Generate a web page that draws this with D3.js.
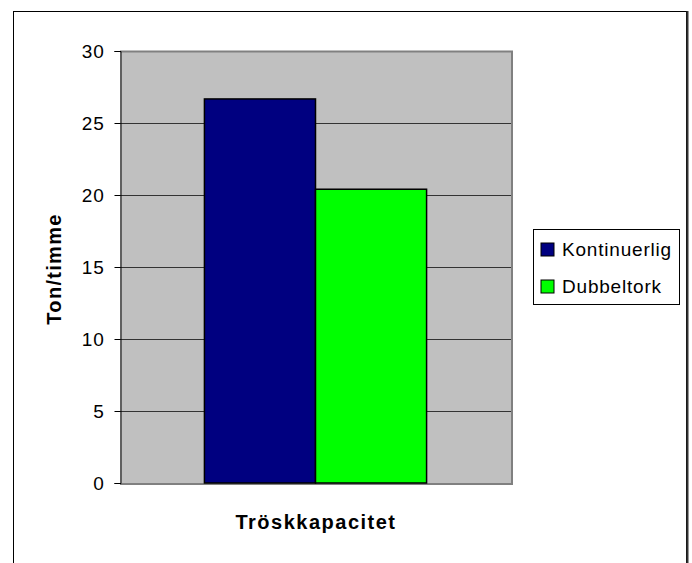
<!DOCTYPE html>
<html lang="sv">
<head>
<meta charset="UTF-8">
<title>Tröskkapacitet</title>
<script src="https://d3js.org/d3.v7.min.js"></script>
<style>
  body { margin: 0; padding: 0; background: #fff; }
  svg { display: block; font-family: "Liberation Sans", Arial, sans-serif; }
</style>
</head>
<body>
<svg id="chart" width="692" height="563"></svg>
<script>
// data
const categories = ["Tröskkapacitet"];
const seriesNames = ["Kontinuerlig", "Dubbeltork"];
const seriesValues = [26.67, 20.4];
const seriesColors = ["#000080", "#00ff00"];
const yTicks = [0, 5, 10, 15, 20, 25, 30];

const svg = d3.select("#chart");

// outer chart border
svg.append("rect")
    .attr("x", 13.5).attr("y", 11.5)
    .attr("width", 673).attr("height", 570)
    .attr("fill", "none").attr("stroke", "#000").attr("stroke-width", 1);
svg.append("line")
    .attr("x1", 687.5).attr("x2", 687.5).attr("y1", 11).attr("y2", 563)
    .attr("stroke", "#333").attr("stroke-width", 2);

const plot = {left: 120, top: 51, right: 511, bottom: 483};

const y = d3.scaleLinear().domain([0, 30]).range([plot.bottom, plot.top]);
const x = d3.scaleBand().domain(categories).range([plot.left, plot.right])
    .paddingInner(0).paddingOuter(0.38);
const xs = d3.scaleBand().domain(seriesNames).range([0, x.bandwidth()]);

// plot area background
svg.append("rect")
    .attr("x", plot.left).attr("y", plot.top)
    .attr("width", plot.right - plot.left).attr("height", plot.bottom - plot.top)
    .attr("fill", "#c0c0c0");

// gridlines
svg.append("g")
    .selectAll("line")
    .data(yTicks.filter(d => d > 0 && d < 30))
    .enter().append("line")
    .attr("x1", plot.left).attr("x2", plot.right)
    .attr("y1", d => Math.round(y(d)) + 0.5).attr("y2", d => Math.round(y(d)) + 0.5)
    .attr("stroke", "#333").attr("stroke-width", 1);

// plot area border (top, right, bottom)
svg.append("path")
    .attr("d", `M${plot.left},${plot.top + 0.5}H${plot.right + 1}V${plot.bottom + 1}H${plot.left}`)
    .attr("fill", "none").attr("stroke", "#808080").attr("stroke-width", 2);

// bars
svg.append("g")
    .selectAll("rect")
    .data(seriesNames.map((s, i) => ({name: s, value: seriesValues[i], color: seriesColors[i], cat: categories[0]})))
    .enter().append("rect")
    .attr("x", d => x(d.cat) + xs(d.name))
    .attr("y", d => y(d.value))
    .attr("width", xs.bandwidth())
    .attr("height", d => y(0) - y(d.value))
    .attr("fill", d => d.color)
    .attr("stroke", "#000").attr("stroke-width", 1.5);

// y axis
const yAxis = svg.append("g")
    .attr("transform", `translate(${plot.left + 0.5},0)`)
    .call(d3.axisLeft(y).tickValues(yTicks).tickSize(6).tickPadding(10));
yAxis.attr("font-family", null);
yAxis.select(".domain").attr("stroke", "#000");
yAxis.selectAll(".tick line").attr("stroke", "#000");
yAxis.selectAll(".tick text")
    .attr("font-size", 19).attr("letter-spacing", 0.8).attr("fill", "#000");

// axis titles
svg.append("text")
    .attr("x", 316).attr("y", 529)
    .attr("text-anchor", "middle")
    .attr("font-size", 20).attr("font-weight", "bold").attr("letter-spacing", 1.5)
    .text(categories[0]);

svg.append("text")
    .attr("transform", "translate(61,269) rotate(-90)")
    .attr("text-anchor", "middle")
    .attr("font-size", 20).attr("font-weight", "bold").attr("letter-spacing", 1.3)
    .text("Ton/timme");

// legend
const legend = svg.append("g");
legend.append("rect")
    .attr("x", 533.5).attr("y", 229.5).attr("width", 146).attr("height", 75)
    .attr("fill", "#fff").attr("stroke", "#000").attr("stroke-width", 1);
const items = legend.selectAll("g.item")
    .data(seriesNames)
    .enter().append("g")
    .attr("transform", (d, i) => `translate(541,${249 + i * 37})`);
items.append("rect")
    .attr("x", 0).attr("y", -6).attr("width", 13).attr("height", 13)
    .attr("fill", (d, i) => seriesColors[i])
    .attr("stroke", "#000").attr("stroke-width", 1);
items.append("text")
    .attr("x", 21).attr("y", 7)
    .attr("font-size", 19).attr("letter-spacing", 0.8)
    .text(d => d);
</script>
</body>
</html>
